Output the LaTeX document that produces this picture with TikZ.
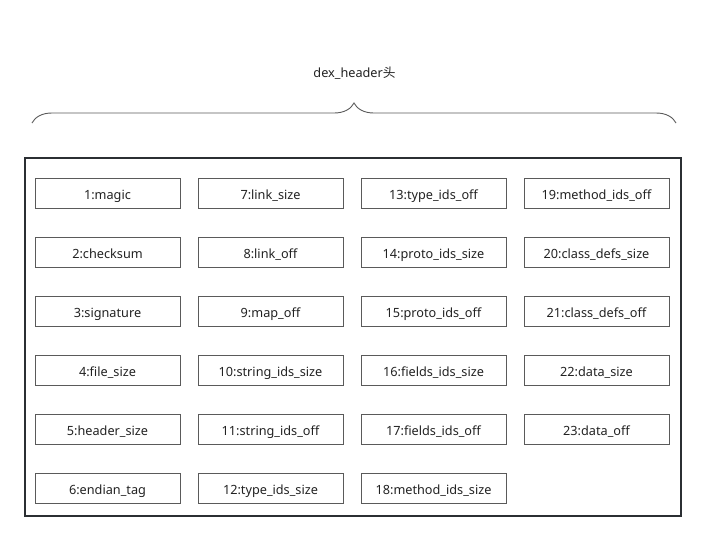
\documentclass[tikz,border=0pt]{standalone}
\usepackage{fontspec}
\setmainfont{Noto Sans}
\newfontfamily\cjk{Noto Sans CJK SC}
\usetikzlibrary{decorations.pathreplacing}
\definecolor{frameline}{HTML}{2B2F33}
\definecolor{boxline}{HTML}{5A5A5A}
\definecolor{textcol}{HTML}{222222}
\begin{document}
\begin{tikzpicture}[x=1pt, y=-1pt, every node/.style={font=\fontsize{12.7}{14}\selectfont, text=textcol}]
\tikzset{field/.style={draw=boxline, line width=0.9pt, minimum width=145pt, minimum height=30pt, inner sep=0pt, text height=11pt, text depth=0pt}}
\tikzset{frame/.style={draw=frameline, line width=1.8pt, minimum width=656pt, minimum height=358pt, inner sep=0pt}}
\useasboundingbox (0,0) rectangle (706,541);
% title and brace
\node[anchor=base] (title) at (354.5,77) {dex\_header{\cjk 头}};
\coordinate (braceL) at (32,123);
\coordinate (braceR) at (676,123);
\draw[boxline, line width=0.9pt, decorate, decoration={brace, amplitude=20pt}] (braceL) -- (braceR);
% outer frame
\node[frame] (hdr) at (353,337) {};
% column 1
\node[field] (f1) at (107.5,193.5) {1:magic};
\node[field] (f2) at (107.5,252.5) {2:checksum};
\node[field] (f3) at (107.5,311.5) {3:signature};
\node[field] (f4) at (107.5,370.5) {4:file\_size};
\node[field] (f5) at (107.5,429.5) {5:header\_size};
\node[field] (f6) at (107.5,488.5) {6:endian\_tag};
% column 2
\node[field] (f7) at (270.5,193.5) {7:link\_size};
\node[field] (f8) at (270.5,252.5) {8:link\_off};
\node[field] (f9) at (270.5,311.5) {9:map\_off};
\node[field] (f10) at (270.5,370.5) {10:string\_ids\_size};
\node[field] (f11) at (270.5,429.5) {11:string\_ids\_off};
\node[field] (f12) at (270.5,488.5) {12:type\_ids\_size};
% column 3
\node[field] (f13) at (433.5,193.5) {13:type\_ids\_off};
\node[field] (f14) at (433.5,252.5) {14:proto\_ids\_size};
\node[field] (f15) at (433.5,311.5) {15:proto\_ids\_off};
\node[field] (f16) at (433.5,370.5) {16:fields\_ids\_size};
\node[field] (f17) at (433.5,429.5) {17:fields\_ids\_off};
\node[field] (f18) at (433.5,488.5) {18:method\_ids\_size};
% column 4
\node[field] (f19) at (596.5,193.5) {19:method\_ids\_off};
\node[field] (f20) at (596.5,252.5) {20:class\_defs\_size};
\node[field] (f21) at (596.5,311.5) {21:class\_defs\_off};
\node[field] (f22) at (596.5,370.5) {22:data\_size};
\node[field] (f23) at (596.5,429.5) {23:data\_off};
\end{tikzpicture}
\end{document}
